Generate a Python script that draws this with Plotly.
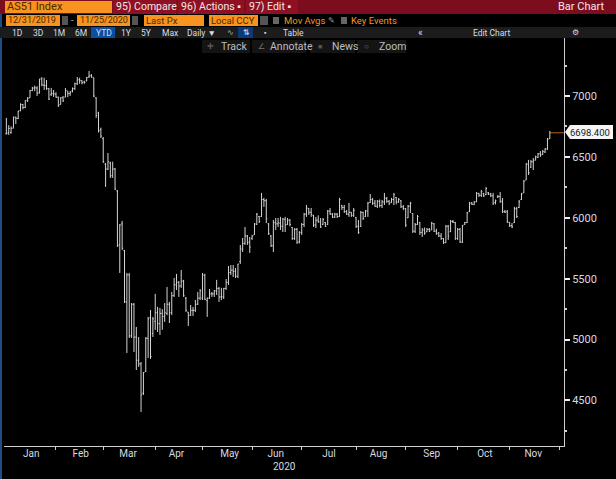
import pandas as pd
import plotly.graph_objects as go

title_text = "AS51 Index"
last_label = "6698.400"
holidays = ["2020-01-27", "2020-04-10", "2020-04-13", "2020-06-08"]

highs = [6820,6760,6750,6830,6830,6880,6940,6935,6965,6990,7050,7075,7085,7080,7140,7155,7150,7131,7066,7066,7049,
 7030,6995,6990,7000,7065,7040,7040,7070,7110,7156,7150,7130,7125,7156,7205,7180,7150,6990,6870,6740,
 6663,6450,6532,6460,6460,6409,6228,5949,5974,5736,5547,5547,5300,5300,5103,5021,4816,4734,5021,5186,5243,5186,
 5375,5268,5260,5250,5300,5432,5309,5391,5506,5539,5481,5571,5490,5350,5227,5284,5268,5325,5391,5415,
 5547,5540,5345,5415,5391,5407,5490,5432,5424,5424,5497,5604,5612,5612,5588,5621,5777,5834,5924,5859,5842,
 5859,5957,6039,6015,6204,6163,6155,5957,5859,5982,
 5998,5998,6007,5998,6007,5998,5990,5924,5916,5916,5890,5957,6039,6105,6080,6080,6023,6007,6020,5998,5998,5966,6064,6080,6039,6040,6039,6163,6105,6105,6064,6122,6048,6080,6007,5982,6056,6048,6064,6130,6195,6163,6146,6146,6150,6146,6204,6171,6146,6163,6204,6170,6163,6146,6105,6080,6105,6130,6039,5957,6023,
 5966,5916,5920,5916,5916,5966,5957,5910,5883,5875,5834,5941,5941,5982,5982,5966,5916,5916,5941,5966,6048,6130,6130,6138,6212,6204,6228,6204,6253,6212,6204,6204,6150,6187,6212,6163,6064,6064,5966,5957,6089,6089,6146,6204,6310,6450,6475,6475,6491,6510,6532,6548,6557,6573,6655,6713]

lows = [6685,6680,6690,6735,6770,6810,6875,6890,6900,6950,6985,7040,7040,7000,7020,7080,7050,7050,6967,7000,6992,
 6985,6910,6930,6950,6990,6990,7000,7030,7050,7090,7100,7095,7100,7120,7150,7150,6990,6820,6700,6655,
 6450,6253,6392,6327,6327,6228,5760,5547,5736,5300,4890,5013,5013,4898,4750,4775,4406,4545,4734,4849,4841,5021,
 5079,5062,5038,5080,5145,5200,5136,5202,5350,5407,5350,5424,5350,5227,5112,5194,5194,5227,5284,5325,
 5325,5325,5186,5333,5350,5350,5366,5309,5325,5333,5407,5448,5530,5514,5506,5506,5621,5719,5777,5777,5711,
 5818,5859,5941,5957,6007,6089,5957,5859,5760,5719,
 5900,5924,5900,5883,5883,5941,5930,5818,5818,5785,5790,5859,5924,6007,6023,6007,5924,5916,5960,5916,5941,5924,5941,6023,5998,5998,5998,6007,6064,6039,6023,6007,6007,6007,5916,5867,5924,5982,6007,6007,6122,6105,6089,6080,6085,6080,6105,6122,6105,6122,6105,6110,6122,6080,6064,5924,5998,6039,5875,5875,5941,
 5859,5842,5860,5883,5883,5900,5883,5860,5842,5818,5785,5793,5818,5883,5957,5818,5818,5793,5793,5941,5957,6048,6105,6105,6130,6171,6171,6171,6187,6187,6171,6105,6110,6163,6122,6039,6039,5957,5924,5916,5957,5998,6080,6146,6204,6310,6351,6409,6392,6470,6491,6500,6516,6532,6557,6647]

opens = [6690,6700,6700,6735,6825,6815,6880,6930,6905,6965,6985,7045,7065,7065,7025,7140,7090,7085,7060,7010,7020,
 7015,6990,6930,6985,6990,7040,7020,7040,7060,7100,7135,7125,7115,7125,7155,7165,7150,6985,6860,6725,
 6650,6440,6400,6450,6345,6400,6220,5780,5950,5730,5310,5530,5030,5290,5020,4830,4800,4560,4740,5010,5180,5050,
 5150,5220,5130,5215,5190,5215,5290,5220,5360,5450,5470,5440,5480,5340,5225,5200,5240,5240,5290,5340,
 5340,5530,5320,5340,5375,5375,5400,5420,5350,5350,5420,5470,5550,5570,5560,5520,5640,5740,5790,5850,5800,
 5830,5860,5945,6010,6010,6150,6140,5950,5850,5770,
 5960,5950,5955,5930,5985,5945,5980,5920,5830,5905,5800,5880,5945,6030,6075,6045,6020,5940,5980,5965,5945,5960,5945,6055,6030,6005,6030,6010,6100,6085,6050,6030,6045,6020,6000,5930,5930,6045,6010,6055,6125,6150,6120,6095,6135,6100,6130,6160,6135,6125,6150,6165,6130,6140,6090,6075,6000,6095,6035,5890,5945,
 5960,5880,5900,5885,5905,5900,5950,5890,5875,5850,5830,5795,5930,5885,5970,5960,5830,5905,5800,5945,5960,6050,6120,6110,6130,6200,6185,6200,6190,6205,6195,6180,6125,6170,6175,6135,6050,6050,5960,5935,5960,6075,6085,6150,6205,6310,6440,6415,6460,6475,6495,6525,6520,6540,6565,6650]

closes = [6690,6733,6735,6827,6817,6874,6929,6905,6962,6982,7042,7065,7067,7023,7139,7090,7085,7060,6975,7020,7017,
 6990,6925,6985,6960,7045,7020,7030,7060,7100,7130,7125,7110,7110,7150,7165,7155,7000,6840,6715,6670,
 6460,6400,6460,6345,6400,6235,5770,5940,5750,5310,5530,5030,5290,5020,4830,4800,4546,4730,5010,5170,4860,5170,
 5220,5130,5215,5190,5220,5290,5220,5360,5450,5470,5440,5480,5360,5240,5200,5240,5240,5290,5340,5400,
 5530,5330,5340,5375,5375,5400,5420,5350,5350,5420,5470,5550,5570,5560,5520,5620,5750,5790,5850,5800,5760,
 5850,5950,6030,5970,6150,6140,5990,5870,5770,5960,
 5950,5960,5930,5990,5940,5980,5945,5830,5905,5800,5880,5945,6030,6080,6045,6030,5940,5980,5965,5925,5985,5930,6055,6030,6005,6030,6010,6150,6085,6050,6030,6045,6020,6060,5930,5880,6045,5995,6055,6120,6150,6120,6095,6135,6100,6130,6160,6135,6115,6150,6190,6130,6150,6090,6075,5940,6095,6120,5890,5945,6010,
 5880,5900,5875,5905,5890,5955,5890,5870,5850,5830,5795,5930,5850,5970,5965,5830,5905,5800,5935,5960,6040,6120,6110,6130,6200,6185,6215,6180,6240,6195,6180,6120,6140,6175,6135,6050,6045,5965,5935,5925,6075,6010,6130,6195,6300,6440,6370,6460,6470,6500,6525,6515,6545,6565,6645,6698]

days = [d for d in pd.bdate_range("2020-01-02", "2020-11-25") if d.strftime("%Y-%m-%d") not in holidays]
dates = [d.strftime("%Y-%m-%d") for d in days]
if not (len(dates) == len(opens) == len(highs) == len(lows) == len(closes)):
    raise SystemExit(f"lengths {len(dates)} {len(opens)} {len(highs)} {len(lows)} {len(closes)}")

W, H = 616, 479
FONT = "Roboto"
hx = lambda p: p / W
hy = lambda p: 1 - p / H
X_END = "2020-12-03"

fig = go.Figure()
fig.add_trace(go.Ohlc(x=dates, open=opens, high=highs, low=lows, close=closes, tickwidth=0.42,
                      increasing=dict(line=dict(color="#d4d4d4", width=1)),
                      decreasing=dict(line=dict(color="#d4d4d4", width=1)),
                      hoverinfo="skip", showlegend=False))
fig.add_trace(go.Scatter(x=[dates[-1], X_END], y=[closes[-1], closes[-1]], mode="lines",
                         line=dict(color="#b5651d", width=1), hoverinfo="skip", showlegend=False))

shapes = []
annos = []

def box(x0, y0, x1, y1, color):
    shapes.append(dict(type="rect", xref="paper", yref="paper", x0=hx(x0), x1=hx(x1), y0=hy(y0), y1=hy(y1),
                       fillcolor=color, line=dict(width=0), layer="below"))

def text(x, y, s, color, size=9.5, anchor="left"):
    annos.append(dict(xref="paper", yref="paper", x=hx(x), y=hy(y), text=s, showarrow=False, xanchor=anchor,
                      yanchor="middle", font=dict(family=FONT, size=size, color=color),
                      borderpad=0, borderwidth=0, align="left"))

ORANGE = "#f7931e"
DARKTXT = "#4a2a00"
RED = "#7b0d1e"
RED2 = "#8f1023"
GREY = "#1c1c1c"
LABEL = "#d6dbe2"

# left accent line
box(0, 0, 2, 479, "#1f4f82")

# row 1
box(0, 0, 616, 14, RED)
box(5, 1, 112, 13, ORANGE)
text(7, 7, title_text, DARKTXT, 11)
box(113, 0, 176, 14, RED2)
text(116, 7, "95) Compare", "#f2e6e6", 10.5)
box(178, 0, 244, 14, RED2)
text(181, 7, "96) Actions \u25aa", "#f2e6e6", 10.5)
box(246, 0, 298, 14, RED2)
text(249, 7, "97) Edit \u25aa", "#f2e6e6", 10.5)
text(604, 7, "Bar Chart", "#f2e6e6", 11, "right")

# row 2
box(6, 15, 60, 26, ORANGE)
text(8, 20.5, "12/31/2019", DARKTXT, 9)
box(62, 16, 68, 25, "#555555")
text(71, 20.5, "-", "#cccccc", 9)
box(77, 15, 130, 26, ORANGE)
text(80, 20.5, "11/25/2020", DARKTXT, 9)
box(132, 16, 138, 25, "#555555")
box(144, 15, 204, 26, ORANGE)
text(146, 20.5, "Last Px", DARKTXT, 9.5)
box(209, 15, 258, 26, ORANGE)
text(211, 20.5, "Local CCY", DARKTXT, 9.5)
box(260, 16, 268, 25, "#555555")
box(273, 17, 279, 24, "#666666")
text(284, 20.5, "Mov Avgs", ORANGE, 9.5)
text(328, 20.5, "\u270e", "#999999", 8)
box(341, 17, 347, 24, "#666666")
text(351, 20.5, "Key Events", ORANGE, 9.5)

# row 3
box(0, 27, 616, 38, GREY)
box(91, 27, 115, 38, "#0a4fa3")
box(238, 27, 253, 38, "#0a3a78")
for px, s in [(12, "1D"), (33, "3D"), (53, "1M"), (75, "6M"), (96, "YTD"), (121, "1Y"), (141, "5Y"), (162, "Max"), (187, "Daily \u25bc")]:
    text(px, 32.5, s, "#d8dde5", 8.5)
text(227, 32.5, "\u223f", "#aeb4bc", 8)
text(243, 32.5, "\u21c5", "#d8dde5", 8)
text(264, 32.5, "\u25aa", "#d8dde5", 7)
text(283, 32.5, "Table", "#d8dde5", 8.5)
text(418, 32.5, "\u00ab", "#d8dde5", 10)
text(473, 32.5, "Edit Chart", "#d8dde5", 8.5)
text(572, 32.5, "\u2699", "#d8dde5", 8)

# row 4
box(202, 40, 250, 53, "#141414")
box(252, 40, 306, 53, "#141414")
box(310, 40, 355, 53, "#141414")
box(357, 40, 406, 53, "#141414")
text(207, 46.5, "\u271b", "#777777", 8)
text(258, 46.5, "\u2220", "#777777", 8)
text(318, 46.5, "\u25a0", "#555555", 7)
text(364, 46.5, "\u25cb", "#777777", 8)
text(221, 46.5, "Track", "#b9bec6", 10.5)
text(270, 46.5, "Annotate", "#b9bec6", 10.5)
text(332, 46.5, "News", "#b9bec6", 10.5)
text(379, 46.5, "Zoom", "#b9bec6", 10.5)

# price tag
tag = f"M {hx(565)} {hy(132)} L {hx(570)} {hy(125)} L {hx(613)} {hy(125)} L {hx(613)} {hy(139)} L {hx(570)} {hy(139)} Z"
shapes.append(dict(type="path", xref="paper", yref="paper", path=tag, fillcolor="#f5f5f5", line=dict(width=0), layer="above"))
text(570, 132, last_label, "#202020", 9.5)

text(284, 466, "2020", LABEL, 10, "center")

fig.update_layout(
    width=W, height=H, margin=dict(l=0, r=0, t=0, b=0), paper_bgcolor="#000000", plot_bgcolor="#000000",
    showlegend=False, shapes=shapes, annotations=annos,
    font=dict(family=FONT, color=LABEL, size=10),
    xaxis=dict(type="date", domain=[hx(4), hx(564)], range=["2020-01-01", X_END],
               rangeslider=dict(visible=False), rangebreaks=[dict(bounds=["sat", "mon"]), dict(values=holidays)],
               dtick="M1", tick0="2020-01-01", tickformat="%b", ticklabelmode="period", ticks="outside", ticklen=3,
               ticklabelstandoff=-5,
               tickcolor="#cfcfcf", showgrid=False, showline=True, linecolor="#cfcfcf", linewidth=1, zeroline=False,
               tickfont=dict(family=FONT, size=10, color=LABEL)),
    yaxis=dict(side="right", domain=[hy(446), hy(38)], range=[4126, 7476], tickvals=[4500, 5000, 5500, 6000, 6500, 7000],
               ticks="outside", ticklen=5, tickwidth=2, tickcolor="#f0f0f0", showgrid=False, zeroline=False,
               showline=True, linecolor="#cfcfcf", linewidth=1, tickfont=dict(family=FONT, size=11, color=LABEL),
               minor=dict(tickvals=[4250, 4750, 5250, 5750, 6250, 6750, 7250], ticks="outside", ticklen=2, tickcolor="#cfcfcf")),
)

fig.write_html("out.html", config=dict(displayModeBar=False),
               post_script="document.body.style.margin='0';document.body.style.overflow='hidden';document.body.style.background='#000';")
